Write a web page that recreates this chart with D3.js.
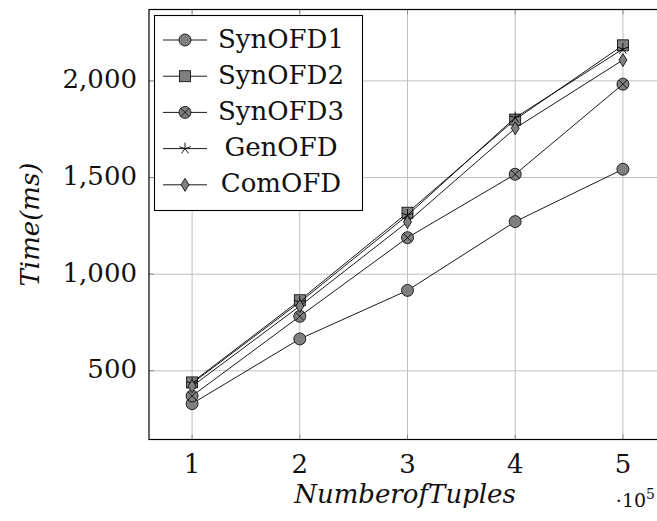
<!DOCTYPE html>
<html>
<head>
<meta charset="utf-8">
<script src="https://cdn.jsdelivr.net/npm/d3@7"></script>
<style>
  body { margin: 0; background: #fff; }
  text { font-family: "DejaVu Serif", serif; fill: #111; }
</style>
</head>
<body>
<div id="chart"></div>
<script>
// values
const tuples = [1, 2, 3, 4, 5];           // x 10^5
const synOFD1 = [330, 665, 916, 1272, 1543];
const synOFD2 = [440, 865, 1318, 1800, 2184];
const synOFD3 = [370, 782, 1189, 1517, 1983];
const genOFD  = [435, 855, 1305, 1810, 2165];
const comOFD  = [420, 835, 1270, 1755, 2108];
const seriesNames = ["SynOFD1", "SynOFD2", "SynOFD3", "GenOFD", "ComOFD"];
const markers = ["circle", "square", "otimes", "star", "diamond"];
const yTicks = [500, 1000, 1500, 2000];

const width = 657, height = 521;
const plotLeft = 149, plotRight = 666, plotTop = 9.5, plotBottom = 439.5;

const series = [synOFD1, synOFD2, synOFD3, genOFD, comOFD].map(function(vals, i) {
  return {name: seriesNames[i], marker: markers[i],
          points: vals.map(function(v, j) { return [tuples[j], v]; })};
});

const allY = d3.merge(series.map(s => s.points.map(p => p[1])));
const yMin = d3.min(allY), yMax = d3.max(allY);
const pad = (yMax - yMin) * 0.1;

const x = d3.scaleLinear().domain([0.6, 5.4]).range([plotLeft, plotRight]);
const y = d3.scaleLinear().domain([yMin - pad, yMax + pad]).range([plotBottom, plotTop]);

const svg = d3.select("#chart").append("svg")
    .attr("width", width)
    .attr("height", height);

const grid = "#c0c0c0";

// grid lines
svg.append("g").selectAll("line")
  .data(tuples)
  .join("line")
    .attr("x1", d => x(d)).attr("x2", d => x(d))
    .attr("y1", plotTop).attr("y2", plotBottom)
    .attr("stroke", grid).attr("stroke-width", 1);

svg.append("g").selectAll("line")
  .data(yTicks)
  .join("line")
    .attr("x1", plotLeft).attr("x2", plotRight)
    .attr("y1", d => y(d)).attr("y2", d => y(d))
    .attr("stroke", grid).attr("stroke-width", 1);

// small tick marks inside the frame
const tk = svg.append("g").attr("stroke", "#8c8c8c").attr("stroke-width", 1);
tuples.forEach(function(t) {
  tk.append("line").attr("x1", x(t)).attr("x2", x(t)).attr("y1", plotBottom).attr("y2", plotBottom - 5);
  tk.append("line").attr("x1", x(t)).attr("x2", x(t)).attr("y1", plotTop).attr("y2", plotTop + 5);
});
yTicks.forEach(function(t) {
  tk.append("line").attr("x1", plotLeft).attr("x2", plotLeft + 5).attr("y1", y(t)).attr("y2", y(t));
  tk.append("line").attr("x1", plotRight).attr("x2", plotRight - 5).attr("y1", y(t)).attr("y2", y(t));
});

// frame
svg.append("rect")
    .attr("x", plotLeft).attr("y", plotTop)
    .attr("width", plotRight - plotLeft).attr("height", plotBottom - plotTop)
    .attr("fill", "none").attr("stroke", "#000").attr("stroke-width", 1.2);

// tick labels
svg.append("g").selectAll("text")
  .data(tuples)
  .join("text")
    .attr("x", d => x(d))
    .attr("y", 473)
    .attr("text-anchor", "middle")
    .style("font-size", "26px")
    .text(d => d);

svg.append("g").selectAll("text")
  .data(yTicks)
  .join("text")
    .attr("x", 137)
    .attr("y", d => y(d) + 7.5)
    .attr("text-anchor", "end")
    .style("font-size", "26px")
    .text(d => d3.format(",")(d));

// axis labels
svg.append("text")
    .attr("transform", "translate(39," + ((plotTop + plotBottom) / 2) + ") rotate(-90)")
    .attr("text-anchor", "middle")
    .style("font-size", "26px")
    .style("font-style", "italic")
    .text("Time(ms)");

svg.append("text")
    .attr("x", 405).attr("y", 503)
    .attr("text-anchor", "middle")
    .style("font-size", "26px")
    .style("font-style", "italic")
    .text("NumberofTuples");

const pw = svg.append("text")
    .attr("x", 655).attr("y", 507)
    .attr("text-anchor", "end")
    .style("font-size", "19px");
pw.append("tspan").text("\u00b710");
pw.append("tspan").attr("dy", -8).style("font-size", "14px").text("5");

// marker drawing
function drawMarker(g, type) {
  const fill = "#7f7f7f";
  if (type == "circle") {
    g.append("circle").attr("r", 6).attr("fill", fill).attr("stroke", "#000").attr("stroke-width", 0.8);
  } else if (type == "square") {
    g.append("rect").attr("x", -5.5).attr("y", -5.5).attr("width", 11).attr("height", 11)
      .attr("fill", fill).attr("stroke", "#000").attr("stroke-width", 0.8);
  } else if (type == "otimes") {
    g.append("circle").attr("r", 6).attr("fill", fill).attr("stroke", "#000").attr("stroke-width", 0.8);
    const r = 6 * Math.SQRT1_2;
    g.append("path").attr("d", `M${-r},${-r}L${r},${r}M${-r},${r}L${r},${-r}`)
      .attr("stroke", "#000").attr("stroke-width", 0.8);
  } else if (type == "star") {
    let d = "";
    for (let k = 0; k < 5; k++) {
      const a = -Math.PI / 2 + k * 2 * Math.PI / 5;
      d += `M0,0L${6 * Math.cos(a)},${6 * Math.sin(a)}`;
    }
    g.append("path").attr("d", d).attr("stroke", "#000").attr("stroke-width", 0.9).attr("fill", "none");
  } else if (type == "diamond") {
    g.append("path").attr("d", "M0,-6.5L4,0L0,6.5L-4,0Z")
      .attr("fill", fill).attr("stroke", "#000").attr("stroke-width", 0.8);
  }
}

const line = d3.line().x(d => x(d[0])).y(d => y(d[1]));

series.forEach(function(s) {
  svg.append("path")
      .datum(s.points)
      .attr("d", line)
      .attr("fill", "none")
      .attr("stroke", "#000")
      .attr("stroke-width", 0.9);
  svg.append("g").selectAll("g")
    .data(s.points)
    .join("g")
      .attr("transform", d => "translate(" + x(d[0]) + "," + y(d[1]) + ")")
      .each(function() { drawMarker(d3.select(this), s.marker); });
});

// legend
const lg = svg.append("g");
lg.append("rect")
    .attr("x", 154.5).attr("y", 15.5)
    .attr("width", 208).attr("height", 195)
    .attr("fill", "#fff").attr("stroke", "#000").attr("stroke-width", 1.1);

series.forEach(function(s, i) {
  const cy = 40 + i * 36.2;
  lg.append("line").attr("x1", 163).attr("x2", 207).attr("y1", cy).attr("y2", cy)
    .attr("stroke", "#000").attr("stroke-width", 0.9);
  drawMarker(lg.append("g").attr("transform", "translate(185," + cy + ")"), s.marker);
  lg.append("text")
      .attr("x", 281).attr("y", cy + 7.5)
      .attr("text-anchor", "middle")
      .style("font-size", "26px")
      .text(s.name);
});
</script>
</body>
</html>
